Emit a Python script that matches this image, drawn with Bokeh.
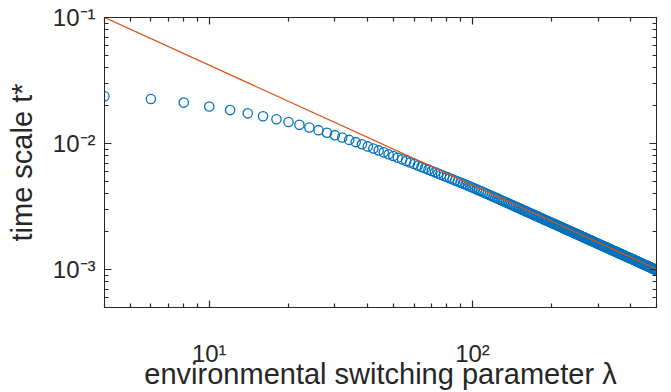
from bokeh.plotting import figure
from bokeh.models import FixedTicker, LogAxis, Range1d
from bokeh.embed import file_html
from bokeh.resources import INLINE

# ---------------- data ----------------
lam = [
    4, 6, 8, 10, 12, 14, 16, 18, 20, 22,
    24, 26, 28, 30, 32, 34, 36, 38, 40, 42,
    44, 46, 48, 50, 52, 54, 56, 58, 60, 62,
    64, 66, 68, 70, 72, 74, 76, 78, 80, 82,
    84, 86, 88, 90, 92, 94, 96, 98, 100, 102,
    104, 106, 108, 110, 112, 114, 116, 118, 120, 122,
    124, 126, 128, 130, 132, 134, 136, 138, 140, 142,
    144, 146, 148, 150, 152, 154, 156, 158, 160, 162,
    164, 166, 168, 170, 172, 174, 176, 178, 180, 182,
    184, 186, 188, 190, 192, 194, 196, 198, 200, 202,
    204, 206, 208, 210, 212, 214, 216, 218, 220, 222,
    224, 226, 228, 230, 232, 234, 236, 238, 240, 242,
    244, 246, 248, 250, 252, 254, 256, 258, 260, 262,
    264, 266, 268, 270, 272, 274, 276, 278, 280, 282,
    284, 286, 288, 290, 292, 294, 296, 298, 300, 302,
    304, 306, 308, 310, 312, 314, 316, 318, 320, 322,
    324, 326, 328, 330, 332, 334, 336, 338, 340, 342,
    344, 346, 348, 350, 352, 354, 356, 358, 360, 362,
    364, 366, 368, 370, 372, 374, 376, 378, 380, 382,
    384, 386, 388, 390, 392, 394, 396, 398, 400, 402,
    404, 406, 408, 410, 412, 414, 416, 418, 420, 422,
    424, 426, 428, 430, 432, 434, 436, 438, 440, 442,
    444, 446, 448, 450, 452, 454, 456, 458, 460, 462,
    464, 466, 468, 470, 472, 474, 476, 478, 480, 482,
    484, 486, 488, 490, 492, 494, 496, 498, 500,
]

t_star = [
    0.02370, 0.02258, 0.02113, 0.01965, 0.01842, 0.01736, 0.01644, 0.01558, 0.01480, 0.01407,
    0.01340, 0.01277, 0.01219, 0.01165, 0.01116, 0.01069, 0.01026, 0.009863, 0.009490, 0.009143,
    0.008818, 0.008515, 0.008231, 0.007964, 0.007717, 0.007487, 0.007270, 0.007067, 0.006875, 0.006694,
    0.006522, 0.006359, 0.006204, 0.006057, 0.005917, 0.005782, 0.005654, 0.005532, 0.005415, 0.005302,
    0.005195, 0.005092, 0.004993, 0.004899, 0.004808, 0.004720, 0.004635, 0.004554, 0.004475, 0.004395,
    0.004318, 0.004244, 0.004173, 0.004105, 0.004037, 0.003972, 0.003909, 0.003848, 0.003789, 0.003731,
    0.003675, 0.003621, 0.003569, 0.003518, 0.003467, 0.003419, 0.003372, 0.003326, 0.003281, 0.003237,
    0.003195, 0.003153, 0.003114, 0.003074, 0.003036, 0.002999, 0.002962, 0.002927, 0.002893, 0.002859,
    0.002826, 0.002794, 0.002763, 0.002732, 0.002702, 0.002674, 0.002645, 0.002617, 0.002590, 0.002563,
    0.002537, 0.002512, 0.002487, 0.002463, 0.002439, 0.002415, 0.002392, 0.002370, 0.002348, 0.002326,
    0.002304, 0.002283, 0.002263, 0.002242, 0.002222, 0.002202, 0.002183, 0.002164, 0.002146, 0.002128,
    0.002110, 0.002092, 0.002075, 0.002058, 0.002041, 0.002025, 0.002009, 0.001993, 0.001977, 0.001962,
    0.001947, 0.001932, 0.001917, 0.001903, 0.001889, 0.001874, 0.001861, 0.001847, 0.001834, 0.001821,
    0.001808, 0.001795, 0.001783, 0.001770, 0.001758, 0.001746, 0.001734, 0.001722, 0.001711, 0.001699,
    0.001688, 0.001677, 0.001666, 0.001655, 0.001645, 0.001634, 0.001624, 0.001613, 0.001603, 0.001593,
    0.001584, 0.001574, 0.001564, 0.001555, 0.001545, 0.001536, 0.001527, 0.001518, 0.001509, 0.001500,
    0.001491, 0.001483, 0.001474, 0.001466, 0.001457, 0.001449, 0.001441, 0.001433, 0.001425, 0.001417,
    0.001409, 0.001401, 0.001394, 0.001386, 0.001379, 0.001372, 0.001364, 0.001357, 0.001350, 0.001343,
    0.001336, 0.001329, 0.001322, 0.001316, 0.001309, 0.001302, 0.001296, 0.001289, 0.001283, 0.001277,
    0.001271, 0.001264, 0.001258, 0.001252, 0.001246, 0.001240, 0.001234, 0.001228, 0.001223, 0.001217,
    0.001211, 0.001205, 0.001200, 0.001194, 0.001189, 0.001184, 0.001178, 0.001173, 0.001168, 0.001162,
    0.001157, 0.001152, 0.001147, 0.001142, 0.001137, 0.001132, 0.001127, 0.001122, 0.001117, 0.001112,
    0.001108, 0.001103, 0.001098, 0.001094, 0.001089, 0.001085, 0.001080, 0.001076, 0.001071, 0.001067,
    0.001063, 0.001058, 0.001054, 0.001050, 0.001046, 0.001041, 0.001037, 0.001033, 0.001029, 0.001025,
    0.001021, 0.001017, 0.001013, 0.001009, 0.001005, 0.001001, 0.0009976, 0.0009938, 0.0009900,
]

# reference power-law line (end points)
lam_line = [4, 500]
t_line = [0.1, 0.00101]

# axis limits and ticks
x_lim = [4, 500]
y_lim = [0.0005, 0.1]
x_major = [10, 100]
x_minor = [4, 5, 6, 7, 8, 9, 20, 30, 40, 50, 60, 70, 80, 90, 200, 300, 400, 500]
y_major = [0.001, 0.01, 0.1]
y_minor = [0.0005, 0.0006, 0.0007, 0.0008, 0.0009,
           0.002, 0.003, 0.004, 0.005, 0.006, 0.007, 0.008, 0.009,
           0.02, 0.03, 0.04, 0.05, 0.06, 0.07, 0.08, 0.09]
x_tick_labels = {10: "10\u00b9", 100: "10\u00b2"}
y_tick_labels = {0.001: "10\u207b\u00b3", 0.01: "10\u207b\u00b2", 0.1: "10\u207b\u00b9"}

x_title = "environmental switching parameter \u03bb"
y_title = "time scale t*"

# ---------------- layout / styling ----------------
FONT = "Liberation Sans"
AX = "#262626"
BLUE = "#0072BD"
RED = "#D95319"

p = figure(width=671, height=392, x_axis_type="log", y_axis_type="log",
           x_range=Range1d(x_lim[0], x_lim[1]), y_range=Range1d(y_lim[0], y_lim[1]),
           output_backend="svg", toolbar_location=None,
           min_border_left=104, min_border_right=15,
           min_border_top=17, min_border_bottom=78)
p.outline_line_color = AX
p.outline_line_width = 1
p.xgrid.visible = False
p.ygrid.visible = False


def style_axis(ax, ticks, minors, overrides=None, show_labels=True, standoff=8):
    ax.ticker = FixedTicker(ticks=ticks, minor_ticks=minors)
    ax.axis_line_color = AX
    ax.axis_line_width = 1
    ax.major_tick_line_color = AX
    ax.minor_tick_line_color = AX
    ax.major_tick_line_width = 1.2
    ax.minor_tick_line_width = 1.2
    ax.major_tick_in = 7
    ax.major_tick_out = 0
    ax.minor_tick_in = 4
    ax.minor_tick_out = 0
    ax.major_label_standoff = standoff
    if show_labels:
        ax.major_label_overrides = overrides
        ax.major_label_text_font = FONT
        ax.major_label_text_font_size = "24px"
        ax.major_label_text_color = AX
    else:
        ax.major_label_text_font_size = "0px"
        ax.major_label_text_alpha = 0
        ax.major_label_standoff = 0


style_axis(p.xaxis[0], x_major, x_minor, x_tick_labels, standoff=32)
style_axis(p.yaxis[0], y_major, y_minor, y_tick_labels, standoff=9)

for ax in (p.xaxis[0], p.yaxis[0]):
    ax.axis_label_text_font = FONT
    ax.axis_label_text_font_size = "29px"
    ax.axis_label_text_font_style = "normal"
    ax.axis_label_text_color = AX
p.xaxis[0].axis_label = x_title
p.xaxis[0].axis_label_standoff = -12
p.yaxis[0].axis_label = y_title
p.yaxis[0].axis_label_standoff = 12

top_ax = LogAxis()
style_axis(top_ax, x_major, x_minor, show_labels=False)
p.add_layout(top_ax, "above")
right_ax = LogAxis()
style_axis(right_ax, y_major, y_minor, show_labels=False)
p.add_layout(right_ax, "right")

# ---------------- glyphs ----------------
p.scatter(lam, t_star, marker="circle", size=9.3, fill_color=None,
          line_color=BLUE, line_width=1.3)
p.line(lam_line, t_line, line_color=RED, line_width=1.3)

open("out.html", "w").write(file_html(p, INLINE))
